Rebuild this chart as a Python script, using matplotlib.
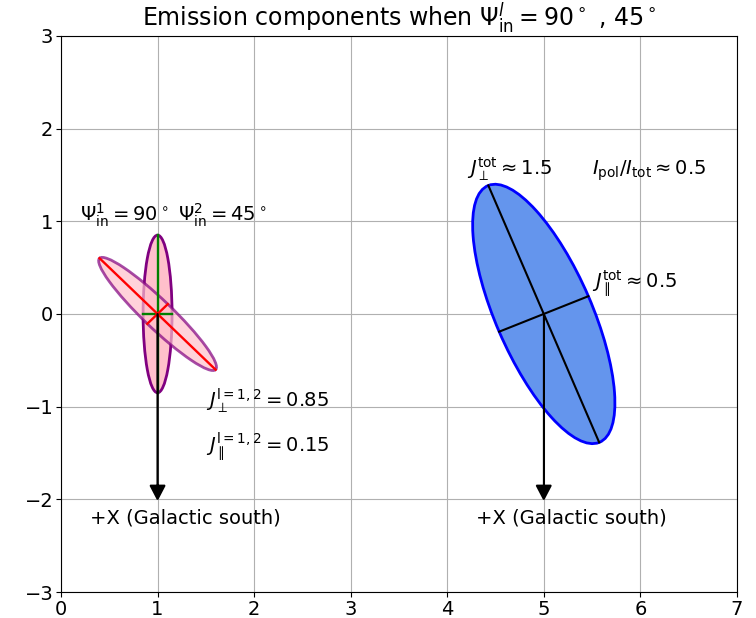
import numpy as np
import matplotlib
matplotlib.use('Agg')
import matplotlib.pyplot as plt
from matplotlib.patches import Ellipse

# component ellipses (center, half-major, half-minor, angle of major axis in deg)
comp_center = (1.0, 0.0)
comp_major = 0.85
comp_minor = 0.15
comp_angles = [90, 135]

# total ellipse
tot_center = (5.0, 0.0)
tot_major = 1.5
tot_minor = 0.5
tot_angle = 112.5

arrow_x = [1.0, 5.0]
arrow_len = 2.0

fig = plt.figure(figsize=(7.56, 6.18), dpi=100)
ax = fig.add_axes([0.0807, 0.042, 0.894, 0.9])

# first component (vertical)
e1 = Ellipse(comp_center, 2*comp_major, 2*comp_minor, angle=comp_angles[0],
             facecolor='pink', edgecolor='purple', lw=2, zorder=2)
ax.add_patch(e1)
# second component (tilted)
e2 = Ellipse(comp_center, 2*comp_major, 2*comp_minor, angle=comp_angles[1],
             facecolor='pink', edgecolor='purple', lw=2, alpha=0.7, zorder=3)
ax.add_patch(e2)

line_cols = ['green', 'red']
for ang, c in zip(comp_angles, line_cols):
    a = np.deg2rad(ang)
    dx, dy = comp_major*np.cos(a), comp_major*np.sin(a)
    ax.plot([comp_center[0]-dx, comp_center[0]+dx], [comp_center[1]-dy, comp_center[1]+dy], color=c, lw=1.7, zorder=4)
    dx, dy = comp_minor*np.cos(a+np.pi/2), comp_minor*np.sin(a+np.pi/2)
    ax.plot([comp_center[0]-dx, comp_center[0]+dx], [comp_center[1]-dy, comp_center[1]+dy], color=c, lw=1.7, zorder=4)

# total
e3 = Ellipse(tot_center, 2*tot_major, 2*tot_minor, angle=tot_angle,
             facecolor='cornflowerblue', edgecolor='blue', lw=2, zorder=2)
ax.add_patch(e3)
a = np.deg2rad(tot_angle)
dx, dy = tot_major*np.cos(a), tot_major*np.sin(a)
ax.plot([tot_center[0]-dx, tot_center[0]+dx], [tot_center[1]-dy, tot_center[1]+dy], color='k', lw=1.5, zorder=4)
dx, dy = tot_minor*np.cos(a+np.pi/2), tot_minor*np.sin(a+np.pi/2)
ax.plot([tot_center[0]-dx, tot_center[0]+dx], [tot_center[1]-dy, tot_center[1]+dy], color='k', lw=1.5, zorder=4)

# arrows to +X
for x in arrow_x:
    ax.arrow(x, 0, 0, -arrow_len, head_width=0.15, head_length=0.15, fc='k', ec='k',
             length_includes_head=True, lw=1.2, zorder=5)
    ax.text(x-0.7, -2.2, '+X (Galactic south)', fontsize=14, va='center')

fs = 14
ax.text(0.2, 1.0, r'$\Psi^1_{\rm in}=90^\circ$ $\Psi^2_{\rm in}=45^\circ$', fontsize=fs)
ax.text(1.5, -1.0, r'$J_\perp^{\rm l=1,2}=0.85$', fontsize=fs)
ax.text(1.5, -1.5, r'$J_\parallel^{\rm l=1,2}=0.15$', fontsize=fs)
ax.text(4.2, 1.5, r'$J_\perp^{\rm tot}\approx1.5$', fontsize=fs)
ax.text(5.5, 1.5, r'$I_{\rm pol}/I_{\rm tot}\approx0.5$', fontsize=fs)
ax.text(5.5, 0.28, r'$J_\parallel^{\rm tot}\approx0.5$', fontsize=fs)

ax.set_xlim(0, 7)
ax.set_ylim(-3, 3)
ax.grid(True)
ax.tick_params(labelsize=14, pad=2)
ax.set_title(r'Emission components when $\Psi^l_{\rm in}=90^\circ$ , $45^\circ$', fontsize=17)

fig.savefig('out.png', dpi=100)
